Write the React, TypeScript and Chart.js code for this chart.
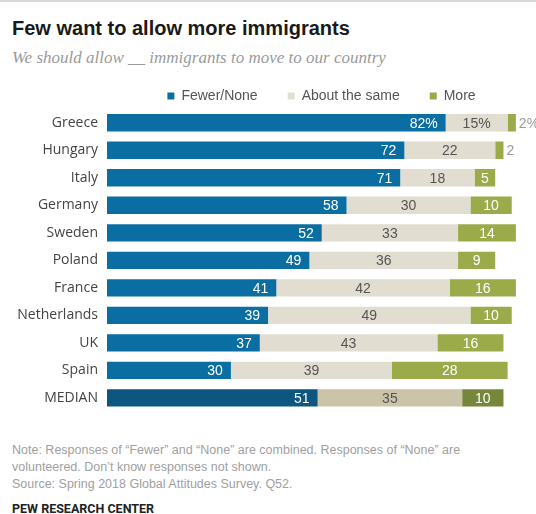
import React, { useEffect, useRef } from "react";
import { Chart, registerables } from "chart.js";

Chart.register(...registerables);

const categories = ["Greece", "Hungary", "Italy", "Germany", "Sweden", "Poland", "France", "Netherlands", "UK", "Spain", "MEDIAN"];
const fewerNone = [82, 72, 71, 58, 52, 49, 41, 39, 37, 30, 51];
const aboutSame = [15, 22, 18, 30, 33, 36, 42, 49, 43, 39, 35];
const more = [2, 2, 5, 10, 14, 9, 16, 10, 16, 28, 10];
const seriesNames = ["Fewer/None", "About the same", "More"];

const BLUE = "#0b6ea3";
const BLUE_M = "#0c5680";
const BEIGE = "#e1ddd0";
const BEIGE_M = "#cbc4a8";
const GREEN = "#9bab4a";
const GREEN_M = "#76863a";

const FONT = "'Liberation Sans', Arial, sans-serif";
const TICK_FONT = "'Open Sans', 'Liberation Sans', sans-serif";

const colorsFor = (normal: string, median: string) =>
  categories.map((c) => (c === "MEDIAN" ? median : normal));

const labelPlugin = {
  id: "segLabels",
  afterDatasetsDraw(chart: any) {
    const ctx = chart.ctx;
    ctx.save();
    ctx.font = `14px ${FONT}`;
    ctx.textBaseline = "middle";
    chart.data.datasets.forEach((ds: any, di: number) => {
      const meta = chart.getDatasetMeta(di);
      meta.data.forEach((bar: any, i: number) => {
        const v = ds.data[i];
        const txt = i === 0 ? `${v}%` : `${v}`;
        const left = bar.base;
        const right = bar.x;
        const y = bar.y + 1;
        if (di === 0) {
          ctx.fillStyle = "#ffffff";
          ctx.textAlign = "right";
          ctx.fillText(txt, right - 8, y);
        } else if (di === 1) {
          ctx.fillStyle = "#555555";
          ctx.textAlign = "center";
          ctx.fillText(txt, (left + right) / 2, y);
        } else {
          if (right - left < 14) {
            ctx.fillStyle = "#9a9a9a";
            ctx.textAlign = "left";
            ctx.fillText(txt, right + 3, y);
          } else {
            ctx.fillStyle = "#ffffff";
            ctx.textAlign = "center";
            ctx.fillText(txt, (left + right) / 2, y);
          }
        }
      });
    });
    ctx.restore();
  },
};

const legendTweak = {
  id: "legendTweak",
  beforeLayout(chart: any) {
    const lg = chart.legend;
    if (lg && !lg.__patched) {
      const f = lg.fit.bind(lg);
      lg.fit = function () {
        f();
        this.height -= 4;
      };
      lg.__patched = true;
    }
  },
  afterLayout(chart: any) {
    const lg = chart.legend;
    if (lg) {
      lg.left += 8;
      lg.right += 8;
    }
  },
};

export default function App() {
  const ref = useRef<HTMLCanvasElement | null>(null);

  useEffect(() => {
    document.body.style.margin = "0";
    const chart = new Chart(ref.current as HTMLCanvasElement, {
      type: "bar",
      data: {
        labels: categories,
        datasets: [
          { label: seriesNames[0], data: fewerNone, backgroundColor: colorsFor(BLUE, BLUE_M) },
          { label: seriesNames[1], data: aboutSame, backgroundColor: colorsFor(BEIGE, BEIGE_M) },
          { label: seriesNames[2], data: more, backgroundColor: colorsFor(GREEN, GREEN_M) },
        ],
      },
      options: {
        indexAxis: "y",
        animation: false,
        responsive: false,
        maintainAspectRatio: false,
        layout: { padding: { right: 16, left: 0, top: 0, bottom: 0 } },
        datasets: { bar: { barPercentage: 0.63, categoryPercentage: 1 } },
        scales: {
          x: { stacked: true, min: 0, max: 100, display: false },
          y: {
            stacked: true,
            grid: { display: false, drawTicks: false },
            border: { display: false },
            ticks: { color: "#444", font: { family: TICK_FONT, size: 14 }, padding: 9 },
            afterFit: (s: any) => {
              s.width = 107;
            },
          },
        },
        plugins: {
          legend: {
            position: "top",
            fullSize: false,
            labels: {
              boxWidth: 7,
              boxHeight: 7,
              padding: 30,
              color: "#555",
              font: { family: FONT, size: 14 },
              generateLabels: (ch: any) =>
                ch.data.datasets.map((ds: any, i: number) => ({
                  text: ds.label,
                  fillStyle: [BLUE, BEIGE, GREEN][i],
                  strokeStyle: [BLUE, BEIGE, GREEN][i],
                  lineWidth: 0,
                  fontColor: "#555",
                  datasetIndex: i,
                  hidden: false,
                })),
            },
          },
          tooltip: { enabled: false },
        },
      },
      plugins: [labelPlugin, legendTweak],
    } as any);
    return () => chart.destroy();
  }, []);

  return (
    <div style={{ position: "relative", width: 536, height: 514, background: "#fff", overflow: "hidden" }}>
      <div style={{ position: "absolute", left: 0, top: 0, width: 536, height: 2, background: "#d8d8d8" }} />
      <div
        style={{
          position: "absolute",
          left: 12,
          top: 17,
          fontFamily: FONT,
          fontWeight: "bold",
          fontSize: 20,
          color: "#1a1a1a",
          whiteSpace: "nowrap",
        }}
      >
        Few want to allow more immigrants
      </div>
      <div
        style={{
          position: "absolute",
          left: 12,
          top: 48,
          fontFamily: "'Liberation Serif', 'DejaVu Serif', serif",
          fontStyle: "italic",
          fontSize: 17,
          color: "#9a9a9a",
          whiteSpace: "nowrap",
        }}
      >
        We should allow __ immigrants to move to our country
      </div>
      <canvas ref={ref} width={536} height={370} style={{ position: "absolute", left: 0, top: 59, width: 536, height: 370 }} />
      <div
        style={{
          position: "absolute",
          left: 12,
          top: 442,
          fontFamily: FONT,
          fontSize: 12.5,
          lineHeight: "17px",
          color: "#a0a0a0",
          width: 524,
          whiteSpace: "nowrap",
        }}
      >
        <div>Note: Responses of “Fewer” and “None” are combined. Responses of “None” are</div>
        <div>volunteered. Don’t know responses not shown.</div>
        <div>Source: Spring 2018 Global Attitudes Survey. Q52.</div>
      </div>
      <div
        style={{
          position: "absolute",
          left: 12,
          top: 501,
          fontFamily: "'Liberation Sans Narrow', 'Roboto', sans-serif",
          fontWeight: "bold",
          fontSize: 12.5,
          color: "#222",
          whiteSpace: "nowrap",
        }}
      >
        PEW RESEARCH CENTER
      </div>
    </div>
  );
}
